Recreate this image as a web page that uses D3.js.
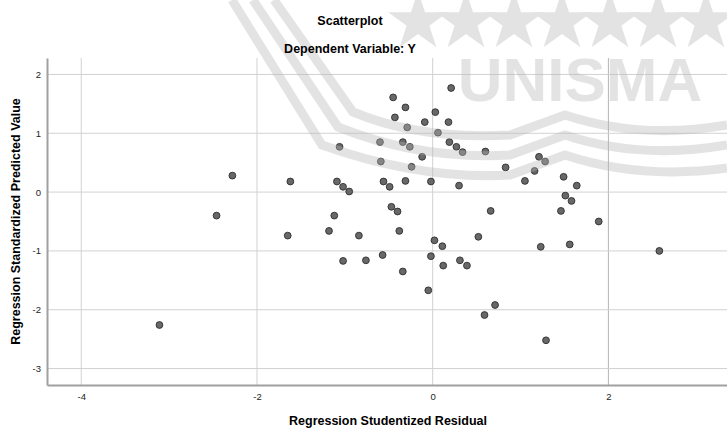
<!DOCTYPE html>
<html>
<head>
<meta charset="utf-8">
<script src="https://cdn.jsdelivr.net/npm/d3@7"></script>
<style>
  body { margin: 0; background: #fff; }
  text { font-family: "Liberation Sans", Arial, sans-serif; }
</style>
</head>
<body>
<div id="chart"></div>
<script>
// residuals (x) and predicted values (y)
var residual = [-3.11, -2.46, -2.28, -1.65, -1.62, -1.18, -1.12, -1.09, -1.06, -1.02,
  -1.02, -0.95, -0.84, -0.76, -0.60, -0.59, -0.57, -0.56, -0.49, -0.47,
  -0.45, -0.43, -0.40, -0.38, -0.34, -0.34, -0.31, -0.31, -0.29, -0.26,
  -0.24, -0.12, -0.09, -0.05, -0.02, -0.02, 0.02, 0.03, 0.06, 0.11,
  0.12, 0.18, 0.19, 0.21, 0.27, 0.30, 0.31, 0.34, 0.39, 0.52,
  0.59, 0.60, 0.66, 0.71, 0.83, 1.05, 1.16, 1.21, 1.23, 1.28,
  1.29, 1.46, 1.49, 1.51, 1.56, 1.58, 1.64, 1.89, 2.58];
var predicted = [-2.26, -0.40, 0.28, -0.74, 0.18, -0.66, -0.40, 0.18, 0.77, 0.09,
  -1.17, 0.01, -0.74, -1.16, 0.85, 0.52, -1.07, 0.18, 0.09, -0.25,
  1.61, 1.27, -0.33, -0.66, -1.35, 0.85, 1.44, 0.19, 1.10, 0.77,
  0.43, 0.60, 1.19, -1.67, 0.18, -1.09, -0.82, 1.36, 1.01, -0.92,
  -1.25, 1.19, 0.85, 1.77, 0.77, 0.11, -1.16, 0.68, -1.25, -0.76,
  -2.09, 0.69, -0.32, -1.92, 0.42, 0.19, 0.36, 0.60, -0.93, 0.52,
  -2.52, -0.32, 0.26, -0.06, -0.89, -0.15, 0.11, -0.50, -1.00];
var xTicks = [-4, -2, 0, 2];
var yTicks = [2, 1, 0, -1, -2, -3];

var width = 727, height = 429;
var plotLeft = 47, plotRight = 727, plotTop = 58, plotBottom = 385;

var svg = d3.select('#chart').append('svg')
  .attr('width', width)
  .attr('height', height);

var x = d3.scaleLinear().domain([-4.39, 3.35]).range([plotLeft, plotRight]);
var y = d3.scaleLinear().domain([2.28, -3.28]).range([plotTop, plotBottom]);

// gridlines
svg.append('g').selectAll('line')
  .data(xTicks).enter().append('line')
  .attr('x1', function(d) { return x(d); })
  .attr('x2', function(d) { return x(d); })
  .attr('y1', plotTop).attr('y2', plotBottom)
  .attr('stroke', function(d) { return d === 2 ? '#b4b4b4' : '#d2d2d2'; })
  .attr('stroke-width', 1);

svg.append('g').selectAll('line')
  .data(yTicks).enter().append('line')
  .attr('x1', plotLeft).attr('x2', plotRight)
  .attr('y1', function(d) { return y(d); })
  .attr('y2', function(d) { return y(d); })
  .attr('stroke', '#d2d2d2')
  .attr('stroke-width', 1);

// axes (plain hyphen for negatives, like the original)
var fmt = function(d) { return String(d); };
var xAxis = svg.append('g')
  .attr('transform', 'translate(0,' + plotBottom + ')')
  .call(d3.axisBottom(x).tickValues(xTicks).tickFormat(fmt).tickSize(0).tickPadding(8));
var yAxis = svg.append('g')
  .attr('transform', 'translate(' + plotLeft + ',0)')
  .call(d3.axisLeft(y).tickValues(yTicks).tickFormat(fmt).tickSize(0).tickPadding(6));
[xAxis, yAxis].forEach(function(a) {
  a.select('.domain').attr('stroke', '#a0a0a0').attr('stroke-width', 2);
  a.selectAll('text').attr('font-size', '9.5px').attr('fill', '#222')
    .attr('font-family', '"Liberation Sans", Arial, sans-serif');
});

// points
svg.append('g').selectAll('circle')
  .data(residual).enter().append('circle')
  .attr('cx', function(d) { return x(d); })
  .attr('cy', function(d, i) { return y(predicted[i]); })
  .attr('r', 3.4)
  .attr('fill', '#686868')
  .attr('stroke', '#2e2e2e')
  .attr('stroke-width', 0.9);

// watermark (UNISMA logo), drawn faintly on top
var wm = svg.append('g').attr('opacity', 0.38);
var stripes = [
  'M274,0 L353,112 Q420,140 510,135 L565,115 Q640,140 727,125',
  'M253,0 L338,127 Q420,160 510,155 L565,135 Q640,160 727,145',
  'M232,0 L322,145 Q420,180 510,175 L565,155 Q640,180 727,168'
];
wm.selectAll('path.stripe').data(stripes).enter().append('path')
  .attr('class', 'stripe')
  .attr('d', function(d) { return d; })
  .attr('fill', 'none')
  .attr('stroke', '#b8b8b8')
  .attr('stroke-width', 9);
var starX = [418, 466, 514, 562, 610, 658, 706];
wm.selectAll('path.star').data(starX).enter().append('path')
  .attr('class', 'star')
  .attr('d', d3.symbol().type(d3.symbolStar).size(1100))
  .attr('transform', function(d) { return 'translate(' + d + ',22)'; })
  .attr('fill', '#b8b8b8');
wm.append('text')
  .attr('x', 580).attr('y', 101)
  .attr('text-anchor', 'middle')
  .attr('font-size', '62px')
  .attr('font-weight', 'bold')
  .attr('fill', '#b8b8b8')
  .text('UNISMA');

// titles
svg.append('text')
  .attr('x', 350).attr('y', 25)
  .attr('text-anchor', 'middle')
  .attr('font-size', '12.5px').attr('font-weight', 'bold')
  .text('Scatterplot');
svg.append('text')
  .attr('x', 350).attr('y', 53)
  .attr('text-anchor', 'middle')
  .attr('font-size', '12.5px').attr('font-weight', 'bold')
  .text('Dependent Variable: Y');
svg.append('text')
  .attr('x', 388).attr('y', 425)
  .attr('text-anchor', 'middle')
  .attr('font-size', '12.5px').attr('font-weight', 'bold')
  .text('Regression Studentized Residual');
svg.append('text')
  .attr('transform', 'translate(20,' + ((plotTop + plotBottom) / 2) + ') rotate(-90)')
  .attr('text-anchor', 'middle')
  .attr('font-size', '12.5px').attr('font-weight', 'bold')
  .text('Regression Standardized Predicted Value');
</script>
</body>
</html>
